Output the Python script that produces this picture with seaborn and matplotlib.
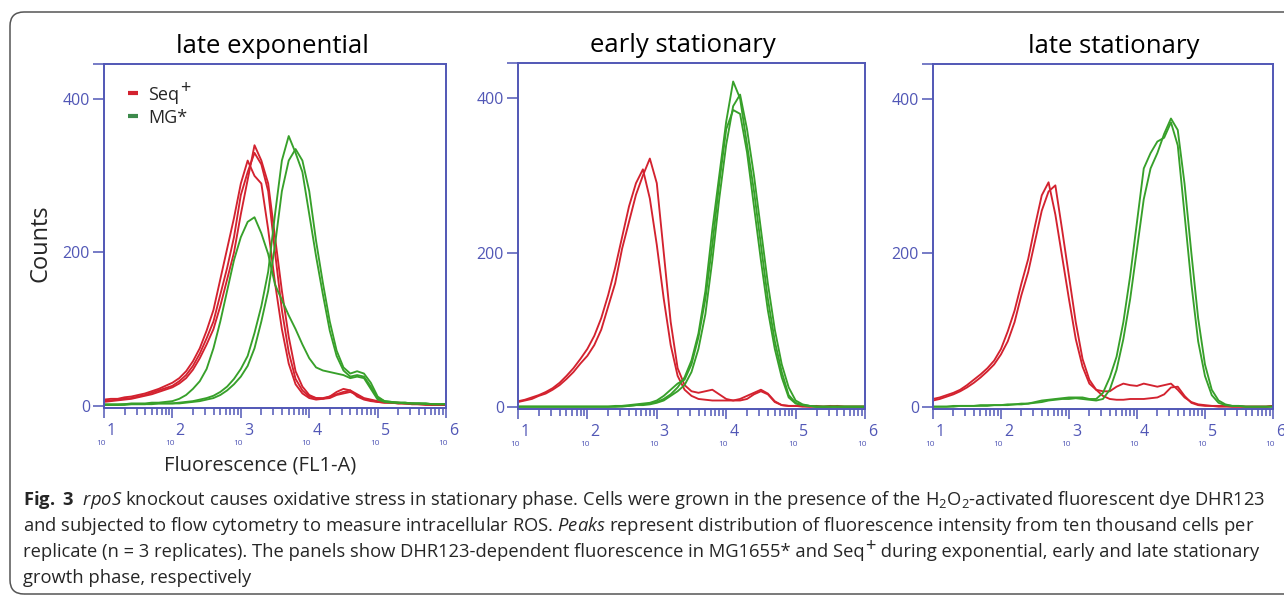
import numpy as np
import pandas as pd
import seaborn as sns
import matplotlib.pyplot as plt
import matplotlib.transforms as mtrans
from matplotlib.lines import Line2D
from matplotlib.patches import FancyBboxPatch

sns.set_theme(style='white')
plt.rcParams['font.family'] = ['Open Sans', 'DejaVu Sans']
plt.rcParams['mathtext.fontset'] = 'custom'
plt.rcParams['mathtext.rm'] = 'Open Sans'
plt.rcParams['mathtext.it'] = 'Open Sans:italic'
plt.rcParams['mathtext.bf'] = 'Open Sans:bold'

# centros de clase en log10(FL1-A), de 10^1 a 10^6
log_fl = np.round(np.linspace(1.0, 6.0, 51), 1)

fases = ['late exponential', 'early stationary', 'late stationary']

# ---- late exponential ----
seq_exp_1 = [6, 7, 8, 9, 10, 12, 14, 17, 20, 23,
             26, 32, 40, 52, 68, 88, 110, 145, 180, 220,
             275, 305, 330, 315, 280, 200, 125, 70, 35, 20,
             12, 10, 10, 12, 15, 18, 20, 15, 10, 8,
             6, 5, 4, 4, 3, 3, 2, 2, 2, 1, 1]
seq_exp_2 = [8, 9, 9, 11, 12, 14, 16, 19, 22, 26,
             30, 36, 45, 58, 75, 98, 125, 165, 205, 245,
             290, 320, 300, 290, 230, 160, 100, 55, 28, 16,
             10, 8, 9, 12, 18, 22, 20, 12, 8, 6,
             5, 4, 4, 3, 3, 2, 2, 2, 1, 1, 1]
seq_exp_3 = [5, 6, 7, 8, 9, 11, 13, 15, 18, 21,
             24, 29, 36, 47, 62, 80, 100, 130, 165, 200,
             250, 295, 340, 320, 290, 220, 150, 90, 45, 25,
             14, 10, 9, 10, 14, 16, 18, 14, 9, 7,
             5, 4, 4, 3, 3, 2, 2, 1, 1, 1, 1]
mg_exp_1 = [1, 1, 1, 2, 2, 2, 2, 3, 3, 3,
            3, 4, 5, 6, 8, 10, 13, 18, 25, 35,
            48, 65, 95, 130, 175, 250, 320, 352, 330, 305,
            250, 195, 145, 98, 65, 46, 38, 40, 38, 25,
            10, 6, 5, 4, 4, 3, 3, 3, 2, 2, 2]
mg_exp_2 = [1, 1, 1, 1, 2, 2, 2, 2, 3, 3,
            3, 3, 4, 5, 6, 8, 10, 14, 20, 28,
            38, 52, 75, 110, 150, 210, 280, 320, 335, 320,
            280, 215, 160, 110, 72, 50, 42, 45, 42, 30,
            12, 6, 5, 4, 4, 3, 3, 3, 2, 2, 2]
mg_exp_3 = [2, 2, 2, 2, 3, 3, 3, 4, 4, 5,
            6, 9, 14, 22, 32, 48, 75, 110, 150, 190,
            220, 240, 246, 225, 198, 158, 138, 118, 100, 80,
            62, 50, 46, 44, 42, 40, 36, 38, 36, 22,
            8, 5, 4, 4, 3, 3, 3, 2, 2, 2, 2]

# ---- early stationary ----
seq_early_1 = [6, 8, 10, 14, 17, 22, 28, 36, 45, 56,
               66, 80, 100, 130, 160, 205, 240, 275, 300, 322,
               290, 200, 110, 50, 28, 20, 18, 20, 22, 16,
               10, 8, 8, 10, 16, 20, 16, 6, 2, 1,
               1, 1, 0, 0, 0, 1, 0, 0, 0, 0, 0]
seq_early_2 = [7, 9, 12, 15, 19, 24, 31, 40, 50, 62,
               75, 92, 115, 145, 180, 220, 260, 290, 308, 270,
               210, 140, 80, 40, 22, 14, 10, 9, 8, 8,
               8, 8, 10, 14, 18, 22, 17, 7, 2, 1,
               1, 0, 0, 1, 0, 0, 1, 0, 0, 0, 0]
mg_early_1 = [0, 0, 0, 0, 0, 0, 0, 0, 0, 0,
              0, 0, 0, 0, 0, 0, 1, 2, 3, 4,
              6, 10, 16, 25, 38, 60, 95, 150, 230, 300,
              370, 422, 400, 340, 280, 210, 140, 85, 45, 15,
              5, 2, 1, 0, 0, 0, 0, 0, 0, 0, 0]
mg_early_2 = [0, 0, 0, 0, 0, 0, 0, 0, 0, 0,
              0, 0, 0, 0, 0, 1, 1, 2, 2, 3,
              5, 8, 14, 20, 28, 45, 75, 120, 190, 270,
              340, 390, 405, 360, 300, 230, 160, 100, 55, 25,
              8, 3, 1, 0, 0, 0, 0, 0, 0, 0, 0]
mg_early_3 = [0, 0, 0, 0, 0, 0, 0, 0, 0, 0,
              0, 0, 0, 0, 1, 1, 2, 3, 4, 5,
              8, 14, 22, 30, 35, 55, 90, 140, 210, 290,
              360, 385, 380, 330, 260, 190, 125, 75, 38, 12,
              4, 2, 1, 0, 0, 0, 0, 0, 0, 0, 0]

# ---- late stationary ----
seq_late_1 = [10, 12, 15, 18, 22, 28, 35, 42, 50, 60,
              75, 98, 125, 160, 192, 235, 275, 292, 250, 195,
              140, 88, 52, 30, 22, 20, 20, 26, 30, 28,
              27, 30, 28, 26, 28, 30, 22, 12, 6, 3,
              2, 1, 1, 1, 0, 0, 0, 0, 0, 0, 1]
seq_late_2 = [8, 10, 13, 16, 20, 25, 31, 38, 46, 55,
              68, 85, 110, 145, 175, 215, 255, 280, 288, 230,
              170, 110, 62, 35, 22, 14, 10, 9, 9, 10,
              10, 10, 11, 12, 16, 25, 26, 14, 5, 2,
              1, 1, 0, 0, 0, 0, 0, 0, 0, 0, 1]
mg_late_1 = [0, 0, 0, 1, 1, 1, 1, 2, 2, 2,
             2, 3, 3, 4, 4, 6, 8, 9, 10, 11,
             12, 12, 12, 10, 10, 18, 38, 65, 110, 170,
             240, 310, 330, 345, 350, 370, 340, 250, 160, 85,
             40, 15, 5, 2, 1, 1, 0, 0, 0, 0, 0]
mg_late_2 = [0, 0, 0, 0, 1, 1, 1, 1, 1, 2,
             2, 2, 3, 3, 4, 5, 6, 8, 9, 10,
             10, 11, 10, 9, 8, 10, 22, 48, 88, 140,
             205, 270, 310, 330, 355, 375, 360, 290, 200, 115,
             55, 22, 8, 3, 1, 1, 0, 0, 0, 0, 0]

curvas = [
    ('late exponential', 'Seq+', 1, seq_exp_1),
    ('late exponential', 'Seq+', 2, seq_exp_2),
    ('late exponential', 'Seq+', 3, seq_exp_3),
    ('late exponential', 'MG*', 1, mg_exp_1),
    ('late exponential', 'MG*', 2, mg_exp_2),
    ('late exponential', 'MG*', 3, mg_exp_3),
    ('early stationary', 'Seq+', 1, seq_early_1),
    ('early stationary', 'Seq+', 2, seq_early_2),
    ('early stationary', 'MG*', 1, mg_early_1),
    ('early stationary', 'MG*', 2, mg_early_2),
    ('early stationary', 'MG*', 3, mg_early_3),
    ('late stationary', 'Seq+', 1, seq_late_1),
    ('late stationary', 'Seq+', 2, seq_late_2),
    ('late stationary', 'MG*', 1, mg_late_1),
    ('late stationary', 'MG*', 2, mg_late_2),
]
datos = pd.concat([pd.DataFrame({'fl': log_fl, 'counts': c, 'fase': f,
                                 'cepa': s, 'rep': r})
                   for f, s, r, c in curvas], ignore_index=True)

rojo = '#d3222f'
verde = '#37a02a'
azul = '#5157b6'

fig = plt.figure(figsize=(12.84, 5.96), dpi=100)

# recuadro de la leyenda de la figura
caja = FancyBboxPatch((10, 2), 1400, 582, boxstyle='round,pad=0,rounding_size=14',
                      transform=mtrans.IdentityTransform(), facecolor='none',
                      edgecolor='#555555', lw=1.1)
fig.add_artist(caja)

rects = [[0.0810, 0.3154, 0.2664, 0.5772],
         [0.4034, 0.3138, 0.2703, 0.5805],
         [0.7266, 0.3138, 0.2648, 0.5789]]
title_x = [0.493, 0.476, 0.532]
menores = [k + np.log10(m) for k in range(1, 6) for m in range(2, 10)]

ejes = []
for fase, rect, tx in zip(fases, rects, title_x):
    ax = fig.add_axes(rect)
    ejes.append(ax)
    sub = datos[datos.fase == fase]
    sns.lineplot(data=sub, x='fl', y='counts', hue='cepa', units='rep',
                 estimator=None, hue_order=['Seq+', 'MG*'],
                 palette={'Seq+': rojo, 'MG*': verde},
                 lw=1.35, legend=False, ax=ax)
    ax.set_xlim(1, 6)
    ax.set_ylim(-3, 446)
    ax.set_xlabel('')
    ax.set_ylabel('')
    ax.set_xticks(range(1, 7))
    ax.set_xticks(menores, minor=True)
    ax.set_yticks([0, 200, 400, 446])
    ax.set_yticklabels(['0', '200', '400', ''])
    ax.tick_params(which='both', bottom=True, left=True, direction='out',
                   colors=azul, width=1.1)
    ax.tick_params(axis='x', which='major', length=7.5, labelbottom=False)
    ax.tick_params(axis='x', which='minor', length=5)
    ax.tick_params(axis='y', length=8, pad=2, labelsize=11.5)
    for s in ax.spines.values():
        s.set_color(azul)
        s.set_linewidth(1.4)
    ax.set_title(fase, fontsize=18.5, pad=8, x=tx, color='black')

    # etiquetas tipo "10^n" del citometro
    base = ax.get_xaxis_transform()
    t_dig = mtrans.offset_copy(base, fig=fig, x=3, y=-27, units='dots')
    t_diez = mtrans.offset_copy(base, fig=fig, x=2, y=-37, units='dots')
    for d in range(1, 7):
        ax.text(d, 0, str(d), transform=t_dig, ha='left', va='baseline',
                fontsize=11.5, color=azul)
        ax.text(d, 0, '10', transform=t_diez, ha='right', va='baseline',
                fontsize=6, color=azul)

# leyenda hecha a mano (el "+" va a tamano completo, elevado)
ax0 = ejes[0]
ax0.add_line(Line2D([0.070, 0.099], [0.916, 0.916], transform=ax0.transAxes,
                    color=rojo, lw=3, solid_capstyle='butt'))
ax0.add_line(Line2D([0.070, 0.099], [0.849, 0.849], transform=ax0.transAxes,
                    color='#3d8a4c', lw=3, solid_capstyle='butt'))
t_seq = ax0.text(0.129, 0.895, 'Seq', transform=ax0.transAxes, fontsize=13,
                 va='baseline', ha='left')
ax0.annotate('+', xy=(1, 0), xycoords=t_seq, xytext=(0.5, 5),
             textcoords='offset points', fontsize=13, va='bottom', ha='left')
ax0.text(0.129, 0.828, 'MG*', transform=ax0.transAxes, fontsize=13,
         va='baseline', ha='left')

fig.text(40 / 1284, 1 - 243 / 596, 'Counts', rotation=90, fontsize=17,
         ha='center', va='center')
fig.text(260 / 1284, 1 - 471 / 596, 'Fluorescence (FL1-A)', fontsize=14.5,
         ha='center', va='baseline')

lineas = [
    r'$\mathbf{Fig.\ 3}$  $\mathit{rpoS}$ knockout causes oxidative stress in stationary phase. '
    r'Cells were grown in the presence of the H$_2$O$_2$-activated fluorescent dye DHR123',
    r'and subjected to flow cytometry to measure intracellular ROS. $\mathit{Peaks}$ represent '
    r'distribution of fluorescence intensity from ten thousand cells per',
    'replicate (n = 3 replicates). The panels show DHR123-dependent fluorescence in MG1655* '
    'and Seq',
    'growth phase, respectively',
]
tam = 13.2
textos = []
for i, txt in enumerate(lineas):
    textos.append(fig.text(23 / 1284, 1 - (505 + 26 * i) / 596, txt, fontsize=tam,
                           ha='left', va='baseline'))
t_mas = ax0.annotate('+', xy=(1, 0), xycoords=textos[2], xytext=(0.3, 4),
                     textcoords='offset points', fontsize=tam, va='bottom', ha='left')
ax0.annotate(' during exponential, early and late stationary', xy=(1, 0),
             xycoords=t_mas, xytext=(0, -4), textcoords='offset points',
             fontsize=tam, va='bottom', ha='left')

fig.savefig('out.png', dpi=100)
